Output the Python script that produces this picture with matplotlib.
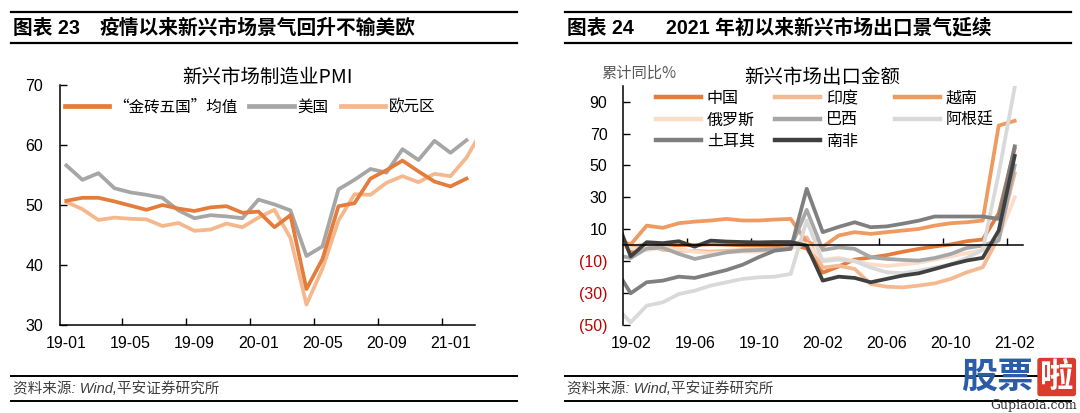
import numpy as np
import matplotlib
matplotlib.use('Agg')
import matplotlib.pyplot as plt
from matplotlib.lines import Line2D

plt.rcParams['font.family'] = ['Liberation Sans', 'Noto Sans CJK SC', 'DejaVu Sans']
plt.rcParams['axes.unicode_minus'] = False

# ---------------- data: left chart (PMI) ----------------
pmi_months = ['19-01', '19-02', '19-03', '19-04', '19-05', '19-06', '19-07', '19-08',
              '19-09', '19-10', '19-11', '19-12', '20-01', '20-02', '20-03', '20-04',
              '20-05', '20-06', '20-07', '20-08', '20-09', '20-10', '20-11', '20-12',
              '21-01', '21-02', '21-03']
brics_pmi = [50.7, 51.2, 51.2, 50.6, 49.9, 49.2, 50.0, 49.4, 49.0, 49.6, 49.8, 48.7,
             48.9, 46.3, 48.3, 36.0, 41.0, 49.8, 50.3, 54.4, 55.8, 57.4, 55.6, 53.9,
             53.1, 54.4]
us_pmi = [56.6, 54.2, 55.3, 52.8, 52.1, 51.7, 51.2, 49.1, 47.8, 48.3, 48.1, 47.8,
          50.9, 50.1, 49.1, 41.5, 43.1, 52.6, 54.2, 56.0, 55.4, 59.3, 57.5, 60.7,
          58.7, 60.8]
euro_pmi = [50.5, 49.3, 47.5, 47.9, 47.7, 47.6, 46.5, 47.0, 45.7, 45.9, 46.9, 46.3,
            47.9, 49.2, 44.5, 33.4, 39.4, 47.4, 51.8, 51.7, 53.7, 54.8, 53.8, 55.2,
            54.8, 57.9, 62.5]
pmi_names = ['“金砖五国”均值', '美国', '欧元区']
pmi_yticks = [30, 40, 50, 60, 70]

# ---------------- data: right chart (exports, cumulative yoy %) ----------------
exp_months = ['19-01', '19-02', '19-03', '19-04', '19-05', '19-06', '19-07', '19-08',
              '19-09', '19-10', '19-11', '19-12', '20-01', '20-02', '20-03', '20-04',
              '20-05', '20-06', '20-07', '20-08', '20-09', '20-10', '20-11', '20-12',
              '21-01', '21-02']
china = [9.1, -4.6, 1.4, 0.2, 0.0, 0.1, 0.6, 0.3, -0.1, -0.2, -0.3, 0.5, -2.0,
         -17.2, -13.3, -9.0, -7.7, -6.2, -4.1, -2.3, -0.8, 0.5, 2.5, 3.6, 20.0, 60.6]
india = [2.0, -1.0, 0.8, -2.9, -3.4, -3.5, -4.0, -3.5, -3.0, -3.0, -2.5, -1.5, 5.0,
         -14.0, -12.8, -14.9, -24.3, -26.0, -26.4, -25.3, -23.9, -21.1, -17.0, -13.8, 5.0, 45.0]
vietnam = [4.0, 0.5, 12.3, 10.9, 13.8, 14.8, 15.5, 16.5, 15.5, 15.5, 16.1, 16.5, 2.0,
           -1.0, 6.1, 8.2, 7.1, 8.2, 9.2, 10.2, 12.3, 13.8, 14.4, 15.5, 75.0, 78.0]
russia = [1.0, -2.0, -3.0, -1.5, -2.5, -4.0, -5.0, -4.5, -4.0, -4.0, -3.0, -2.0, 1.0,
          -9.0, -8.0, -10.0, -12.0, -13.0, -12.0, -11.0, -9.0, -7.0, -5.0, -3.0, 5.0, 30.0]
brazil = [-6.0, -8.0, -2.0, -1.5, -5.4, -8.6, -6.5, -4.4, -3.4, -3.0, -2.5, -1.5, 22.2,
          -3.0, -1.3, -2.3, -7.5, -8.6, -9.2, -9.6, -8.0, -5.5, -1.7, -0.2, 3.0, 50.0]
argentina = [-38.0, -48.3, -37.9, -35.8, -30.6, -28.5, -25.3, -23.2, -21.1, -20.1, -19.7,
             -18.0, 15.5, -10.0, -9.0, -10.0, -14.0, -17.0, -17.5, -16.0, -14.0, -12.0,
             -8.0, -3.0, 45.0, 99.0]
turkey = [-14.0, -30.1, -23.2, -22.2, -19.7, -20.5, -18.0, -15.5, -12.2, -7.5, -3.4, -2.3,
          35.4, 8.2, 11.5, 14.4, 11.3, 11.8, 13.5, 15.4, 18.0, 18.0, 18.0, 18.0, 16.5, 62.0]
south_africa = [19.0, -7.0, 1.9, 1.3, 2.5, -0.9, 2.9, 2.3, 2.0, 1.8, 2.0, 2.0, -0.2,
                -22.2, -19.7, -20.5, -23.2, -21.1, -19.0, -17.6, -14.9, -12.1, -9.6, -7.9,
                9.2, 56.0]
exp_names = ['中国', '印度', '越南', '俄罗斯', '巴西', '阿根廷', '土耳其', '南非']
exp_yticks = [-50, -30, -10, 10, 30, 50, 70, 90]

# ---------------- styles ----------------
pmi_colors = ['#E47C3C', '#A6A6A6', '#F5B88D']
exp_colors = ['#E47C3C', '#F4B991', '#EE9A60', '#FADDC9', '#A6A6A6', '#D9D9D9',
              '#7F7F7F', '#404040']
LW = 2.7
W, H = 1080, 413
CJK = ['Noto Sans CJK SC', 'DejaVu Sans']

fig = plt.figure(figsize=(W / 100, H / 100), dpi=100)


def fx(px):
    return px / W


def fy(py):
    return 1 - py / H


def hline(x0, x1, y, lw=1.6):
    fig.add_artist(Line2D([fx(x0), fx(x1)], [fy(y), fy(y)], color='black', lw=lw))


# ---------------- headers & footers ----------------
for x0, x1, num, title, tx in [(11, 517, '图表 23', '疫情以来新兴市场景气回升不输美欧', 100),
                               (565, 1071, '图表 24', '2021 年初以来新兴市场出口景气延续', 666)]:
    hline(x0, x1, 12)
    hline(x0, x1, 43)
    fig.text(fx(x0 + 2), fy(28), num, fontsize=14.2, fontweight='bold', ha='left', va='center')
    fig.text(fx(tx), fy(28), title, fontsize=14.2, fontweight='bold', ha='left', va='center')
    hline(x0, x1, 376, lw=1.4)
    hline(x0, x1, 401, lw=1.4)
    fig.text(fx(x0 + 2), fy(389), '资料来源: Wind,平安证券研究所', fontsize=10.5,
             style='italic', color='#404040', ha='left', va='center')

# ---------------- left chart ----------------
L0, L1 = 60, 474.5
axL = fig.add_axes([fx(L0), fy(325), fx(L1 - L0), (325 - 85) / H])
xL = np.arange(len(pmi_months))
axL.plot(xL[:len(brics_pmi)], brics_pmi, color=pmi_colors[0], lw=LW, zorder=5)
axL.plot(xL[:len(us_pmi)], us_pmi, color=pmi_colors[1], lw=LW, zorder=4)
axL.plot(xL[:len(euro_pmi)], euro_pmi, color=pmi_colors[2], lw=LW, zorder=3)
axL.set_yticks(pmi_yticks)
axL.tick_params(axis='y', direction='in', length=5, width=1, labelsize=11.5, pad=12)
lab_pos = xL[0:25:4]
axL.set_xticks(lab_pos[:-1] + 3.5)
axL.set_xticklabels([])
axL.tick_params(axis='x', which='major', direction='in', length=5, width=1)
axL.set_xticks(lab_pos, minor=True)
axL.set_xticklabels([pmi_months[i] for i in lab_pos], minor=True)
axL.tick_params(axis='x', which='minor', length=0, labelsize=11.5, pad=8)
axL.set_xlim(-0.4, 25.5)
axL.set_ylim(pmi_yticks[0], pmi_yticks[-1])
for s in ['top', 'right']:
    axL.spines[s].set_visible(False)
for s in ['left', 'bottom']:
    axL.spines[s].set_linewidth(1.1)
axL.text(0.5, fy(72) - fy(85) + 1, '新兴市场制造业PMI', transform=axL.transAxes,
         ha='center', va='center', fontsize=14, family=CJK)

hL = [Line2D([], [], color=c, lw=3.4) for c in pmi_colors]
fig.legend(hL, pmi_names, loc='center left', bbox_to_anchor=(fx(65), fy(107)),
           ncol=3, frameon=False, prop={'family': CJK, 'size': 11.2},
           handlelength=2.85, handletextpad=0.22, columnspacing=0.8,
           borderpad=0, borderaxespad=0)

# ---------------- right chart ----------------
R0, R1 = 622.7, 1022.7
axR = fig.add_axes([fx(R0), fy(325), fx(R1 - R0), (325 - 85.7) / H])
xR = np.arange(len(exp_months))
series = [china, india, vietnam, russia, brazil, argentina, turkey, south_africa]
for vals, c in zip(series, exp_colors):
    axR.plot(xR, vals, color=c, lw=LW)
axR.set_yticks(exp_yticks)
axR.set_yticklabels([f'({abs(v)})' if v < 0 else f'{v}' for v in exp_yticks])
for lab, v in zip(axR.get_yticklabels(), exp_yticks):
    lab.set_color('#C00000' if v < 0 else 'black')
axR.tick_params(axis='y', direction='in', length=5, width=1, labelsize=11.5, pad=11)
axR.spines['bottom'].set_position(('data', 0))
axR.spines['bottom'].set_linewidth(1.1)
axR.spines['left'].set_linewidth(1.1)
for s in ['top', 'right']:
    axR.spines[s].set_visible(False)
lab_posR = xR[1:26:4]
axR.set_xticks(lab_posR[:-1] + 3.5)
axR.set_xticklabels([])
axR.tick_params(axis='x', direction='in', length=5, width=1)
axR.set_xlim(0.5, 25.5)
axR.set_ylim(-50, 100)
sec = axR.secondary_xaxis('bottom')
sec.set_xticks(lab_posR)
sec.set_xticklabels([exp_months[i] for i in lab_posR])
sec.tick_params(length=0, labelsize=11.5, pad=8)
sec.spines['bottom'].set_visible(False)
axR.text(0.5, fy(72) - fy(85.7) + 1, '新兴市场出口金额', transform=axR.transAxes,
         ha='center', va='center', fontsize=14, family=CJK)
fig.text(fx(639), fy(73), '累计同比%', ha='center', va='center', fontsize=11,
         color='#595959', family=CJK)

# legend in three uniform columns
cols = [[0, 3, 6], [1, 4, 7], [2, 5]]
col_x = [656, 775, 895]
for idxs, cx in zip(cols, col_x):
    hs = [Line2D([], [], color=exp_colors[i], lw=3.2) for i in idxs]
    ls = [exp_names[i] for i in idxs]
    fig.legend(hs, ls, loc='upper left', bbox_to_anchor=(fx(cx), fy(90)),
               ncol=1, frameon=False, prop={'family': CJK, 'size': 11.5},
               handlelength=2.8, handletextpad=0.38, labelspacing=0.27,
               borderpad=0, borderaxespad=0)

# watermark
fig.text(fx(961), fy(377), '股票', fontsize=26, fontweight='bold', color='#2A5CA8',
         ha='left', va='center', family=CJK)
fig.text(fx(1040), fy(377), '啦', fontsize=24, fontweight='bold', color='white',
         ha='left', va='center', family=CJK,
         bbox=dict(boxstyle='round,pad=0.08', fc='#DD3A2E', ec='none'))
fig.text(fx(1077), fy(406), 'Gupiaola.com', fontsize=9, color='#333333',
         ha='right', va='center', family=['DejaVu Serif'])

fig.savefig('out.png', dpi=100)
